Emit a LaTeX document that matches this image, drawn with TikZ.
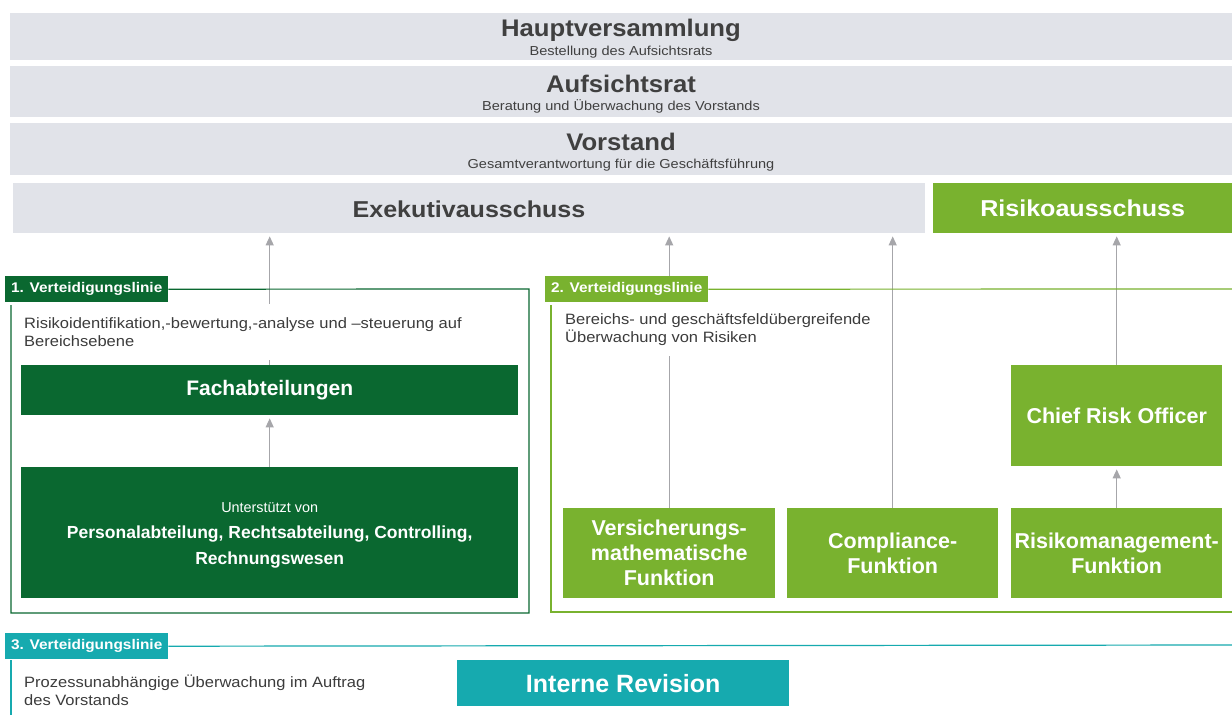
\documentclass[tikz,border=0pt]{standalone}
\usepackage{fontspec}
\setmainfont{Liberation Sans}
\newfontfamily\titlefont{Liberation Sans}[FakeStretch=1.07]
\newfontfamily\subfont{Liberation Sans}[FakeStretch=1.12]
\newfontfamily\exfont{Liberation Sans}[FakeStretch=1.09]
\newfontfamily\descfont{Liberation Sans}[FakeStretch=1.1]
\usetikzlibrary{arrows.meta}

\definecolor{barGray}{RGB}{225,227,233}
\definecolor{titleGray}{RGB}{64,64,64}
\definecolor{darkGreen}{RGB}{10,104,48}
\definecolor{lightGreen}{RGB}{121,178,47}
\definecolor{tealCol}{RGB}{22,170,175}
\definecolor{arrowGray}{RGB}{166,166,170}
\definecolor{bodyText}{RGB}{60,60,60}

\newcommand{\fs}[2]{\fontsize{#1}{#2}\selectfont}

\begin{document}
\begin{tikzpicture}[x=1pt,y=-1pt,
  bar/.style={fill=barGray, draw=none, anchor=north west, inner sep=0pt},
  title/.style={text=titleGray, font=\titlefont\fs{24}{26}\bfseries, anchor=base, inner sep=0pt},
  subtitle/.style={text=titleGray, font=\subfont\fs{13}{14}, anchor=base, inner sep=0pt},
  dgbox/.style={fill=darkGreen, text=white, anchor=north west, inner sep=0pt, align=center},
  lgbox/.style={fill=lightGreen, text=white, anchor=north west, inner sep=0pt, align=center,
    font=\fs{21.5}{25}\bfseries},
  tag/.style={anchor=north west, inner sep=0pt, text=white,
    font=\descfont\fs{14}{16}\bfseries, minimum height=26pt, minimum width=163pt},
  desc/.style={anchor=north west, fill=white, inner xsep=4pt, inner ysep=0pt,
    align=left, text=bodyText, font=\descfont\fs{15}{18}},
  uparrow/.style={draw=arrowGray, line width=1.2pt,
    -{Triangle[length=9pt,width=8pt]}, shorten >=3pt},
  frameline/.style={line width=1.2pt}
]
\useasboundingbox[fill=white] (0,0) rectangle (1232,715);

% governance bars
\node[bar, minimum width=1222pt, minimum height=47pt] (hv) at (10,13) {};
\node[title] (hvT) at (621,36) {Hauptversammlung};
\node[subtitle] (hvS) at (621,55) {Bestellung des Aufsichtsrats};

\node[bar, minimum width=1222pt, minimum height=51pt] (ar) at (10,66) {};
\node[title] (arT) at (621,92) {Aufsichtsrat};
\node[subtitle] (arS) at (621,110) {Beratung und Überwachung des Vorstands};

\node[bar, minimum width=1222pt, minimum height=52pt] (vs) at (10,123) {};
\node[title] (vsT) at (621,150) {Vorstand};
\node[subtitle] (vsS) at (621,168) {Gesamtverantwortung für die Geschäftsführung};

\node[bar, minimum width=912pt, minimum height=50pt] (exek) at (13,183) {};
\node[title, font=\exfont\fs{23}{26}\bfseries] (exekT) at (469,217) {Exekutivausschuss};
\node[fill=lightGreen, anchor=north west, inner sep=0pt, minimum width=299pt,
  minimum height=50pt, text=white, font=\exfont\fs{23}{26}\bfseries] (risk) at (933,183) {Risikoausschuss};

% first line of defence
\node[dgbox, minimum width=497pt, minimum height=50pt, font=\fs{21}{24}\bfseries] (fach) at (21,365) {Fachabteilungen};
\node[dgbox, minimum width=497pt, minimum height=131pt, font=\fs{17.5}{26}\bfseries] (support) at (21,467) {};
\node[text=white, align=center, inner sep=0pt, font=\fs{17.5}{26}\bfseries] (supportT)
  at ([yshift=-2.5pt]support.center)
  {{\mdseries\fs{14.4}{16}Unterstützt von}\\
   Personalabteilung, Rechtsabteilung, Controlling,\\
   Rechnungswesen};

% second line of defence
\node[lgbox, minimum width=212pt, minimum height=90pt] (vmf) at (563,508) {Versicherungs-\\mathematische\\Funktion};
\node[lgbox, minimum width=211pt, minimum height=90pt] (comp) at (787,508) {Compliance-\\Funktion};
\node[lgbox, minimum width=211pt, minimum height=90pt] (rmf) at (1011,508) {Risikomanagement-\\Funktion};
\node[lgbox, minimum width=211pt, minimum height=101pt] (cro) at (1011,365) {Chief Risk Officer};

% third line of defence
\node[fill=tealCol, text=white, anchor=north west, inner sep=0pt, minimum width=332pt,
  minimum height=46pt, font=\fs{25}{28}\bfseries] (ir) at (457,660) {Interne Revision};

% reporting arrows
\draw[uparrow] (support.north) -- (fach.south);
\draw[uparrow] (fach.north) -- (exek.south -| fach.north);
\draw[uparrow] (vmf.north) -- (exek.south -| vmf.north);
\draw[uparrow] (comp.north) -- (exek.south -| comp.north);
\draw[uparrow] (rmf.north) -- (cro.south);
\draw[uparrow] (cro.north) -- (risk.south -| cro.north);

% line-of-defence tags and frames
\node[tag, fill=darkGreen] (tag1) at (5,276) {1. Verteidigungslinie};
\draw[darkGreen, frameline] (tag1.east) -- (529,289) -- (529,613) -- (11,613) -- (11,305);

\node[tag, fill=lightGreen] (tag2) at (545,276) {2. Verteidigungslinie};
\draw[lightGreen, frameline] (tag2.east) -- (1232,289);
\draw[lightGreen, frameline] (551,305) -- (551,612) -- (1232,612);

\node[tag, fill=tealCol] (tag3) at (5,633) {3. Verteidigungslinie};
\draw[tealCol, frameline] (tag3.east) -- (1232,645);
\draw[tealCol, frameline] (11,660) -- (11,715);

% descriptions
\node[desc, minimum height=56pt] (desc1) at (20,304)
  {Risikoidentifikation,-bewertung,-analyse und –steuerung auf\\Bereichsebene};
\node[desc, minimum height=54pt] (desc2) at (561,302)
  {Bereichs- und geschäftsfeldübergreifende\\Überwachung von Risiken};
\node[desc, minimum height=40pt] (desc3) at (20,670)
  {Prozessunabhängige Überwachung im Auftrag\\des Vorstands};
\end{tikzpicture}
\end{document}
